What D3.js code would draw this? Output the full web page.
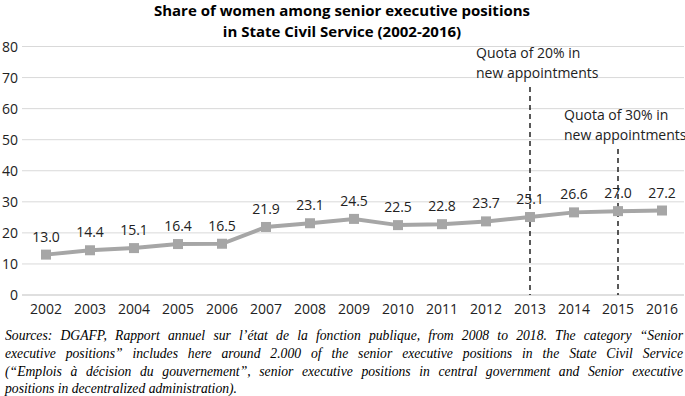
<!DOCTYPE html>
<html>
<head>
<meta charset="utf-8">
<script src="https://cdn.jsdelivr.net/npm/d3@7"></script>
<style>
  body { margin: 0; background: #fff; }
  #chart { display: block; }
  #note { position: absolute; left: 5px; top: 326px; width: 678px;
          font-family: "Liberation Serif", "Times New Roman", serif; font-style: italic;
          font-size: 15.5px; line-height: 17.8px; color: #000; }
  #note div { white-space: nowrap; width: 770px; transform: scaleX(0.8805); transform-origin: 0 0;
              text-align: justify; text-align-last: justify; }
  #note div.last { text-align-last: left; }
</style>
</head>
<body>
<svg id="chart" width="685" height="320"></svg>
<div id="note"></div>
<script>
// данные
const years = [2002, 2003, 2004, 2005, 2006, 2007, 2008, 2009, 2010, 2011, 2012, 2013, 2014, 2015, 2016];
const share = [13.0, 14.4, 15.1, 16.4, 16.5, 21.9, 23.1, 24.5, 22.5, 22.8, 23.7, 25.1, 26.6, 27.0, 27.2];
const yTicks = [0, 10, 20, 30, 40, 50, 60, 70, 80];
const quotas = [
    {year: 2013, top: 67, lines: ["Quota of 20% in", "new appointments"]},
    {year: 2015, top: 47, lines: ["Quota of 30% in", "new appointments"]}
];
const titleLines = ["Share of women among senior executive positions", "in State Civil Service (2002-2016)"];
const noteLines = [
    "Sources: DGAFP, Rapport annuel sur l\u2019\u00e9tat de la fonction publique, from 2008 to 2018. The category \u201cSenior",
    "executive positions\u201d includes here around 2.000 of the senior executive positions in the State Civil Service",
    "(\u201cEmplois \u00e0 d\u00e9cision du gouvernement\u201d, senior executive positions in central government and Senior executive",
    "positions in decentralized administration)."
];

const svg = d3.select("#chart");
const font = "'Open Sans', 'Noto Sans', sans-serif";

const area = { left: 24, right: 684, top: 46.5, bottom: 295 };

const scX = d3.scaleBand()
    .domain(years)
    .range([area.left, area.right]);

const scY = d3.scaleLinear()
    .domain([0, 80])
    .range([area.bottom, area.top]);

const cx = d => scX(d) + scX.bandwidth() / 2;

// заголовок
svg.selectAll(".title")
    .data(titleLines)
    .enter()
    .append("text")
    .attr("class", "title")
    .attr("x", 342)
    .attr("y", (d, i) => 16 + i * 21)
    .attr("text-anchor", "middle")
    .style("font-family", font)
    .style("font-weight", "bold")
    .style("font-size", "15px")
    .text(d => d);

// сетка
svg.append("g")
    .selectAll("line")
    .data(yTicks)
    .enter()
    .append("line")
    .attr("x1", area.left - 2)
    .attr("x2", area.right)
    .attr("y1", d => scY(d))
    .attr("y2", d => scY(d))
    .style("stroke", d => d === 0 ? "#bfbfbf" : "#d9d9d9")
    .style("stroke-width", 1);

// ось Y
svg.append("g")
    .selectAll("text")
    .data(yTicks)
    .enter()
    .append("text")
    .attr("x", 18)
    .attr("y", d => scY(d) + 5)
    .attr("text-anchor", "end")
    .style("font-family", font)
    .style("font-size", "14px")
    .style("fill", "#222")
    .text(d => d);

// ось X
svg.append("g")
    .selectAll("text")
    .data(years)
    .enter()
    .append("text")
    .attr("x", d => cx(d))
    .attr("y", 314)
    .attr("text-anchor", "middle")
    .style("font-family", font)
    .style("font-size", "14px")
    .style("fill", "#222")
    .text(d => d);

// пунктирные линии квот
quotas.forEach(q => {
    svg.append("line")
        .attr("x1", cx(q.year))
        .attr("x2", cx(q.year))
        .attr("y1", scY(q.top))
        .attr("y2", area.bottom)
        .style("stroke", "#000")
        .style("stroke-width", 1.3)
        .style("stroke-dasharray", "5,4");

    svg.selectAll(null)
        .data(q.lines)
        .enter()
        .append("text")
        .attr("x", cx(q.year) - 54)
        .attr("y", (d, i) => scY(q.top) - 29 + i * 20)
        .style("font-family", font)
        .style("font-size", "14px")
        .style("fill", "#222")
        .text(d => d);
});

const data = years.map((y, i) => ({year: y, value: share[i]}));

// линия
svg.append("path")
    .datum(data)
    .attr("d", d3.line().x(d => cx(d.year)).y(d => scY(d.value)))
    .style("fill", "none")
    .style("stroke", "#a6a6a6")
    .style("stroke-width", 4);

// маркеры
const m = 10;
svg.selectAll(".mark")
    .data(data)
    .enter()
    .append("rect")
    .attr("class", "mark")
    .attr("x", d => cx(d.year) - m / 2)
    .attr("y", d => scY(d.value) - m / 2)
    .attr("width", m)
    .attr("height", m)
    .style("fill", "#a6a6a6");

// подписи значений
svg.selectAll(".val")
    .data(data)
    .enter()
    .append("text")
    .attr("class", "val")
    .attr("x", d => cx(d.year))
    .attr("y", d => scY(d.value) - 13)
    .attr("text-anchor", "middle")
    .style("font-family", font)
    .style("font-size", "14px")
    .style("fill", "#222")
    .text(d => d.value.toFixed(1));

// примечание
d3.select("#note")
    .selectAll("div")
    .data(noteLines)
    .enter()
    .append("div")
    .attr("class", (d, i) => i === noteLines.length - 1 ? "last" : null)
    .text(d => d);
</script>
</body>
</html>
